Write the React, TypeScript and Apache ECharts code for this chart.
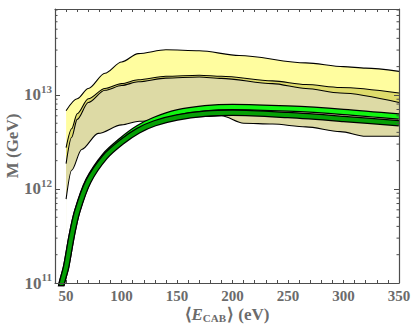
import React, { useEffect, useRef } from 'react';
import * as echarts from 'echarts';

// x range / y range of the frame
const X_MIN = 40;
const X_MAX = 350;
const Y_MIN = 1e11;
const Y_MAX = 8.2e13;

// Outer (light yellow) band: upper edge
const u1X = [50, 60, 70, 85, 100, 115, 140, 170, 206, 266, 300, 320, 350];
const u1M = [6.8e12, 9.1e12, 1.17e13, 1.7e13, 2.24e13, 2.75e13, 3.02e13, 2.95e13, 2.63e13, 2.19e13, 2.0e13, 1.93e13, 1.78e13];

// Khaki band upper edge / yellow band lower edge (share x grid)
const pairX = [50, 55, 60, 70, 85, 100, 115, 140, 170, 190, 236, 266, 297, 350];
const u2M = [2.75e12, 4.37e12, 6.3e12, 9.1e12, 1.17e13, 1.32e13, 1.45e13, 1.58e13, 1.62e13, 1.58e13, 1.41e13, 1.29e13, 1.2e13, 1.05e13];
const l1M = [1.86e12, 3.55e12, 5.5e12, 8.3e12, 1.12e13, 1.26e13, 1.38e13, 1.51e13, 1.55e13, 1.5e13, 1.32e13, 1.17e13, 1.05e13, 8.3e12];

// Khaki band lower edge
const l2X = [50, 55, 64, 79, 100, 116, 146, 176, 190, 210, 236, 266, 297, 320, 350];
const l2M = [7.8e11, 1.58e12, 2.63e12, 3.9e12, 4.8e12, 5.25e12, 5.6e12, 5.9e12, 6.0e12, 5.0e12, 4.9e12, 4.57e12, 4.07e12, 3.63e12, 3.63e12];

// Green curves
const gX = [44, 46, 50, 55, 60, 70, 85, 100, 115, 130, 150, 175, 200, 250, 300, 350];
const brightM = [7.2e10, 9.8e10, 1.48e11, 3.16e11, 5.8e11, 1.23e12, 2.27e12, 3.3e12, 4.45e12, 5.45e12, 6.5e12, 7.2e12, 7.45e12, 7.16e12, 6.6e12, 5.89e12];
const darkM = [7.2e10, 9.8e10, 1.48e11, 3.16e11, 5.75e11, 1.2e12, 2.19e12, 3.16e12, 4.17e12, 5.0e12, 5.75e12, 6.3e12, 6.46e12, 6.1e12, 5.56e12, 5.0e12];

const yDecades = [11, 12, 13];
const yMinorMult = [2, 3, 4, 5, 6, 7, 8, 9];

const zip = (xs: number[], ys: number[]) => xs.map((x, i) => [x, ys[i]]);

export default function App() {
  const ref = useRef<HTMLDivElement>(null);
  useEffect(() => {
    const chart = echarts.init(ref.current!, null, { renderer: 'svg' });
    const font = "'Liberation Serif', 'Times New Roman', serif";
    const gray = '#6b6b6b';
    const frame = '#4d4d4d';

    const minorY: number[][] = [];
    yDecades.forEach((d) => yMinorMult.forEach((m) => {
      const v = m * Math.pow(10, d);
      if (v < Y_MAX) minorY.push([X_MIN, v]);
    }));

    const band = (data: number[][], fill: string) => ({
      type: 'line',
      data,
      smooth: 0.3,
      smoothMonotone: 'x',
      symbol: 'none',
      clip: true,
      silent: true,
      lineStyle: { color: '#000', width: 1.1 },
      areaStyle: { color: fill, opacity: 1, origin: 'start' },
      z: 2,
    });
    const gline = (data: number[][], color: string, width: number, z: number) => ({
      type: 'line',
      data,
      smooth: 0.3,
      symbol: 'none',
      clip: true,
      silent: true,
      lineStyle: { color, width, cap: 'butt' },
      z,
    });

    const xCommon = {
      type: 'value',
      min: X_MIN,
      max: X_MAX,
      interval: 10,
      z: 10,
      splitLine: { show: false },
      axisLine: { show: true, onZero: false, lineStyle: { color: frame, width: 1.2 } },
      axisTick: { show: true, inside: true, length: 3, lineStyle: { color: frame, width: 1 } },
    };
    const yCommon = {
      type: 'log',
      logBase: 10,
      min: Y_MIN,
      max: Y_MAX,
      z: 10,
      splitLine: { show: false },
      axisLine: { show: true, onZero: false, lineStyle: { color: frame, width: 1.2 } },
      axisTick: { show: true, inside: true, length: 5, lineStyle: { color: frame, width: 1 } },
    };

    chart.setOption({
      animation: false,
      backgroundColor: '#ffffff',
      grid: { left: 55, right: 14, top: 9, bottom: 45, containLabel: false, outerBoundsMode: 'none' },
      xAxis: [
        {
          ...xCommon,
          position: 'bottom',
          axisLabel: {
            show: true,
            margin: 5,
            color: gray,
            fontFamily: font,
            fontWeight: 'bold',
            fontSize: 15,
            formatter: (v: number) => (v % 50 === 0 ? String(v) : ''),
          },
          name: '⟨{i|E}{s|CAB}⟩ (eV)',
          nameLocation: 'middle',
          nameGap: 22,
          nameMoveOverlap: false,
          nameTextStyle: {
            color: gray,
            fontFamily: font,
            fontWeight: 'bold',
            fontSize: 17,
            lineHeight: 18,
            rich: {
              i: { fontStyle: 'italic', fontWeight: 'bold', fontFamily: font, fontSize: 17, color: gray, lineHeight: 18 },
              s: { fontWeight: 'bold', fontFamily: font, fontSize: 11, color: gray, verticalAlign: 'bottom', lineHeight: 12, padding: [0, 1, 0, 0] },
            },
          },
        },
        { ...xCommon, position: 'top', axisLabel: { show: false } },
      ],
      yAxis: [
        {
          ...yCommon,
          position: 'left',
          axisLabel: {
            show: true,
            margin: 3,
            showMaxLabel: false,
            formatter: (v: number) => {
              const e = Math.log10(v);
              if (Math.abs(e - Math.round(e)) > 1e-6) return '';
              return `{a|10}{s|${Math.round(e)}}`;
            },
            rich: {
              a: { fontFamily: font, fontWeight: 'bold', fontSize: 17, color: gray, lineHeight: 17 },
              s: { fontFamily: font, fontWeight: 'bold', fontSize: 11, color: gray, lineHeight: 11, padding: [0, 0, 12, 0] },
            },
          },
          name: 'M (GeV)',
          nameLocation: 'middle',
          nameGap: 34,
          nameMoveOverlap: false,
          nameTextStyle: { color: gray, fontFamily: font, fontWeight: 'bold', fontSize: 17 },
        },
        { ...yCommon, position: 'right', axisLabel: { show: false } },
      ],
      series: [
        band(zip(u1X, u1M), '#fffd9f'),
        band(zip(pairX, u2M), '#dfdc6c'),
        band(zip(pairX, l1M), '#dddaa5'),
        band(zip(l2X, l2M), '#ffffff'),
        gline(zip(gX, brightM), '#000000', 6.5, 3),
        gline(zip(gX, brightM), '#12f512', 4, 3),
        gline(zip(gX, darkM), '#000000', 6.5, 3),
        gline(zip(gX, darkM), '#05a005', 4, 3),
        {
          type: 'custom',
          coordinateSystem: 'cartesian2d',
          silent: true,
          clip: false,
          z: 10,
          data: minorY,
          renderItem: (_p: any, api: any) => {
            const v = api.value(1);
            const l = api.coord([X_MIN, v]);
            const r = api.coord([X_MAX, v]);
            const st = { stroke: frame, lineWidth: 1 };
            return {
              type: 'group',
              children: [
                { type: 'line', shape: { x1: l[0], y1: l[1], x2: l[0] + 2.5, y2: l[1] }, style: st },
                { type: 'line', shape: { x1: r[0], y1: r[1], x2: r[0] - 2.5, y2: r[1] }, style: st },
              ],
            };
          },
        },
      ],
    } as any);
    return () => chart.dispose();
  }, []);
  return <div ref={ref} style={{ position: 'fixed', left: 0, top: 0, width: 413, height: 328 }} />;
}
